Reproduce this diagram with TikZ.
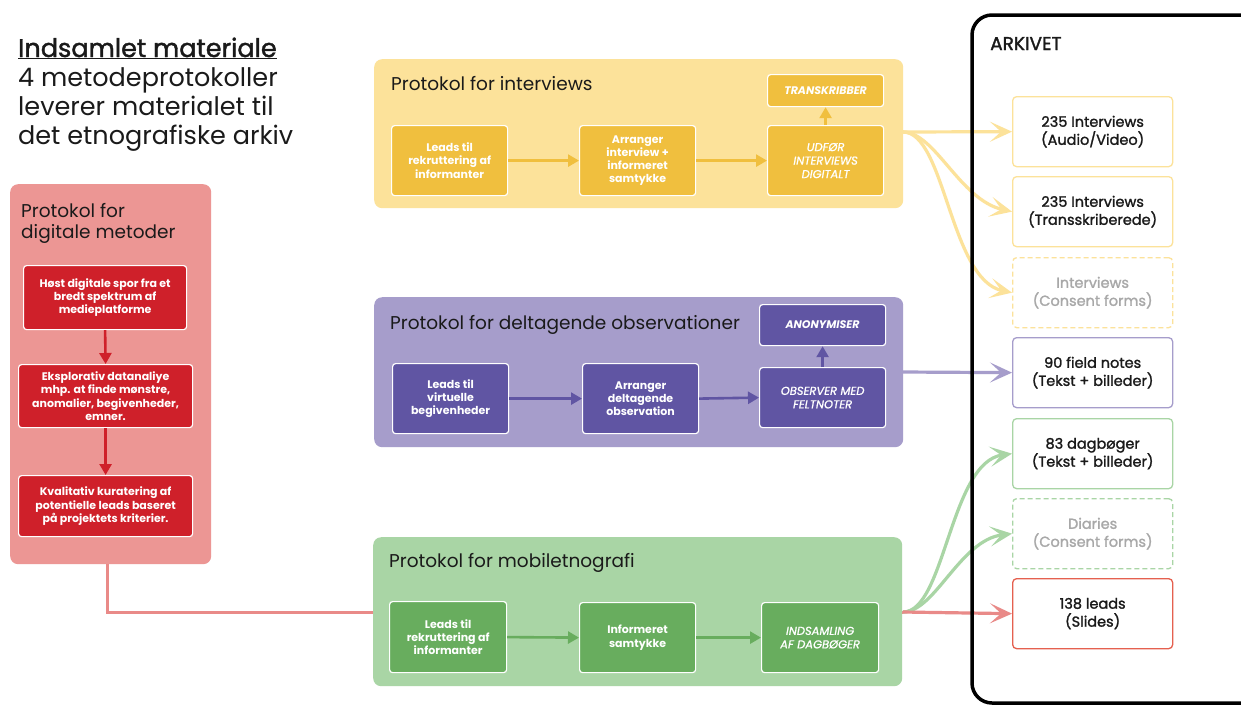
\documentclass[tikz,border=0pt]{standalone}
\usepackage{fontspec}
\setmainfont{Poppins}
\newfontfamily\medfont{Poppins}[FakeBold=1.5]
\newfontfamily\litfont{Poppins}[FakeBold=1]
\usetikzlibrary{arrows.meta}
\definecolor{ylight}{HTML}{FCE29A}
\definecolor{ydark}{HTML}{F0BF3E}
\definecolor{plight}{HTML}{A69DCB}
\definecolor{pdark}{HTML}{6055A3}
\definecolor{glight}{HTML}{A9D5A5}
\definecolor{gdark}{HTML}{68AD5E}
\definecolor{rlight}{HTML}{EC9694}
\definecolor{rdark}{HTML}{CF202A}
\definecolor{rline}{HTML}{E98A88}
\definecolor{rbox}{HTML}{E5604F}
\definecolor{gtext}{HTML}{A8A8A8}
\definecolor{ink}{HTML}{1A1A1A}
\tikzset{
  panel/.style={rounded corners=8pt, anchor=north west, inner sep=0pt},
  ibox/.style={rounded corners=3pt, draw=white, line width=1.2pt, text=white,
    anchor=north west, inner sep=0pt, align=center,
    font=\bfseries\fontsize{11}{13.2}\selectfont},
  ital/.style={font=\litfont\itshape\fontsize{11.5}{13.5}\selectfont},
  bital/.style={font=\bfseries\itshape\fontsize{11}{13}\selectfont},
  abox/.style={rounded corners=4pt, line width=1.3pt, fill=white, anchor=north west,
    inner sep=0pt, minimum width=160pt, minimum height=70pt, align=center,
    text=ink, font=\medfont\fontsize{14.5}{18}\selectfont},
  ptitle/.style={anchor=base west, inner sep=0pt, text=ink, font=\fontsize{18.5}{21}\selectfont},
  ttl/.style={anchor=base west, inner sep=0pt, text=ink, font=\fontsize{25.5}{29}\selectfont},
  iarrow/.style={line width=2.6pt, -{Triangle[length=11pt,width=12pt]}},
  oarrow/.style={line width=3.2pt, -{Stealth[length=22pt,width=20pt,inset=11pt]}},
}
\begin{document}
\begin{tikzpicture}[x=1pt,y=-1pt]
\useasboundingbox (0,0) rectangle (1241,705);
\fill[white] (0,0) rectangle (1241,705);

% title
\node[ttl, font=\medfont\fontsize{25.5}{29}\selectfont] (t0) at (18,57) {\underline{Indsamlet materiale}};
\node[ttl] (t1) at (18,86) {4 metodeprotokoller};
\node[ttl] (t2) at (18,115) {leverer materialet til};
\node[ttl] (t3) at (18,144) {det etnografiske arkiv};

% red connector behind panels
\coordinate (rstart) at (107,564);
\coordinate (rbend) at (107,612);

% red panel
\node[panel, fill=rlight, minimum width=201pt, minimum height=380pt] (rp) at (10,184) {};
\node[ptitle] (rt1) at (21,217) {Protokol for};
\node[ptitle] (rt2) at (21,238) {digitale metoder};
\node[ibox, fill=rdark, minimum width=163pt, minimum height=64pt] (rb1) at (23,265)
  {Høst digitale spor fra et\\bredt spektrum af\\medieplatforme};
\node[ibox, fill=rdark, minimum width=174pt, minimum height=63pt] (rb2) at (18,364)
  {Eksplorativ datanaliye\\mhp. at finde mønstre,\\anomalier, begivenheder,\\emner.};
\node[ibox, fill=rdark, minimum width=174pt, minimum height=61pt] (rb3) at (18,475)
  {Kvalitativ kuratering af\\potentielle leads baseret\\på projektets kriterier.};
\draw[iarrow, rdark] (rb1.south) -- (rb2.north);
\draw[iarrow, rdark] (rb2.south) -- (rb3.north);

% yellow panel
\node[panel, fill=ylight, minimum width=529pt, minimum height=149pt] (yp) at (374,59) {};
\node[ptitle] (yt) at (391,90) {Protokol for interviews};
\node[ibox, fill=ydark, minimum width=116pt, minimum height=70pt] (yb1) at (391,125)
  {Leads til\\rekruttering af\\informanter};
\node[ibox, fill=ydark, minimum width=116pt, minimum height=70pt] (yb2) at (579,125)
  {Arranger\\interview +\\informeret\\samtykke};
\node[ibox, ital, fill=ydark, minimum width=116pt, minimum height=70pt] (yb3) at (767,125)
  {UDFØR\\INTERVIEWS\\DIGITALT};
\node[ibox, bital, fill=ydark, minimum width=116pt, minimum height=32pt] (yb4) at (767,74)
  {TRANSKRIBBER};
\draw[iarrow, ydark] (yb1.east) -- (yb2.west);
\draw[iarrow, ydark] (yb2.east) -- (yb3.west);
\draw[iarrow, ydark] (yb3.north) -- (yb4.south);

% purple panel
\node[panel, fill=plight, minimum width=529pt, minimum height=150pt] (pp) at (374,297) {};
\node[ptitle] (pt) at (390,329) {Protokol for deltagende observationer};
\node[ibox, fill=pdark, minimum width=116pt, minimum height=70pt] (pb1) at (392,363)
  {Leads til\\virtuelle\\begivenheder};
\node[ibox, fill=pdark, minimum width=116pt, minimum height=70pt] (pb2) at (582,363)
  {Arranger\\deltagende\\observation};
\node[ibox, ital, fill=pdark, minimum width=126pt, minimum height=60pt] (pb3) at (759,367)
  {OBSERVER MED\\FELTNOTER};
\node[ibox, bital, fill=pdark, minimum width=126pt, minimum height=41pt] (pb4) at (759,304)
  {ANONYMISER};
\draw[iarrow, pdark] (pb1.east) -- (pb2.west);
\draw[iarrow, pdark] (pb2.east) -- (pb3.west);
\draw[iarrow, pdark] (pb3.north) -- (pb4.south);

% green panel (red line runs behind it)
\draw[line width=3pt, rline] (rstart) -- (rbend) -- (903,612);
\node[panel, fill=glight, minimum width=529pt, minimum height=149pt] (gp) at (373,537) {};
\node[ptitle] (gt) at (389,567) {Protokol for mobiletnografi};
\node[ibox, fill=gdark, minimum width=117pt, minimum height=71pt] (gb1) at (389,601)
  {Leads til\\rekruttering af\\informanter};
\node[ibox, fill=gdark, minimum width=116pt, minimum height=70pt] (gb2) at (579,602)
  {Informeret\\samtykke};
\node[ibox, ital, fill=gdark, minimum width=117pt, minimum height=70pt] (gb3) at (761,602)
  {INDSAMLING\\AF DAGBØGER};
\draw[iarrow, gdark] (gb1.east) -- (gb2.west);
\draw[iarrow, gdark] (gb2.east) -- (gb3.west);

% archive boxes
\node[abox, draw=ylight] (a1) at (1012,96) {235 Interviews\\(Audio/Video)};
\node[abox, draw=ylight] (a2) at (1012,176) {235 Interviews\\(Transskriberede)};
\node[abox, draw=ylight, dashed, dash pattern=on 5pt off 3pt, text=gtext] (a3) at (1012,257) {Interviews\\(Consent forms)};
\node[abox, draw=plight] (a4) at (1012,337) {90 field notes\\(Tekst + billeder)};
\node[abox, draw=glight] (a5) at (1012,418) {83 dagbøger\\(Tekst + billeder)};
\node[abox, draw=glight, dashed, dash pattern=on 5pt off 3pt, text=gtext] (a6) at (1012,498) {Diaries\\(Consent forms)};
\node[abox, draw=rbox] (a7) at (1012,578) {138 leads\\(Slides)};

% connectors to archive
\coordinate (ys) at (903,132);
\coordinate (ps) at (903,372);
\coordinate (gs) at (903,612);
\draw[oarrow, ylight] (ys) -- (a1.west);
\draw[oarrow, ylight] (ys) .. controls (935,132) and (960,200) .. (a2.west);
\draw[oarrow, ylight] (ys) .. controls (945,132) and (950,280) .. (a3.west);
\draw[oarrow, plight] (ps) -- (a4.west);
\draw[oarrow, glight] (gs) .. controls (945,612) and (950,462) .. (a5.west);
\draw[oarrow, glight] (gs) .. controls (935,612) and (960,540) .. (a6.west);
\draw[oarrow, rline] (gs) -- (a7.west);

% archive frame
\draw[line width=3.5pt, rounded corners=20pt] (1260,15) -- (972,15) -- (972,703) -- (1260,703);
\node[anchor=base west, inner sep=0pt, text=ink, font=\medfont\fontsize{18.5}{20}\selectfont] (ark) at (990,50) {ARKIVET};
\end{tikzpicture}
\end{document}
